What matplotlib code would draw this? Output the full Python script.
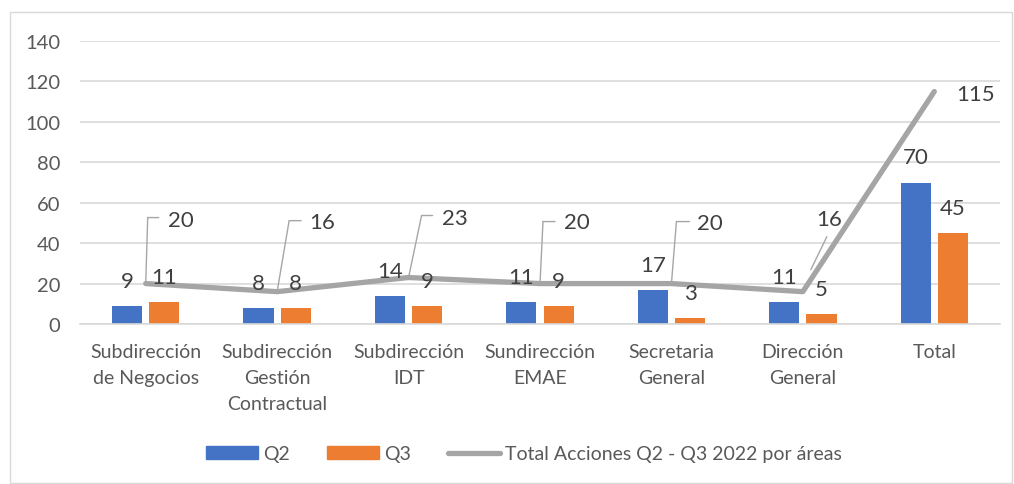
import numpy as np
import matplotlib
matplotlib.use('Agg')
import matplotlib.pyplot as plt
from matplotlib.transforms import offset_copy
from matplotlib.patches import Rectangle, Patch
from matplotlib.lines import Line2D

categories = ["Subdirección\nde Negocios", "Subdirección\nGestión\nContractual",
              "Subdirección\nIDT", "Sundirección\nEMAE", "Secretaria\nGeneral",
              "Dirección\nGeneral", "Total"]
q2 = [9, 8, 14, 11, 17, 11, 70]
q3 = [11, 8, 9, 9, 3, 5, 45]
total = [20, 16, 23, 20, 20, 16, 115]
yticks = [0, 20, 40, 60, 80, 100, 120, 140]
legend_labels = ["Q2", "Q3", "Total Acciones Q2 - Q3 2022 por áreas"]

# label placement (pixels, image-down positive): text left offset, text center offset
lab_dx = [22, 32, 33, 24, 26, 13, 22]
lab_dy = [-64, -70, -60, -62, -61, -73, 2]
# leader lines: list of vertices offsets (pixels)
leaders = [
    [(0, 0), (2, -66), (13, -66)],
    [(0, 0), (12, -71), (24, -71)],
    [(0, 0), (13, -62), (24, -62)],
    [(0, 0), (3, -62), (15, -62)],
    [(0, 0), (5, -62), (18, -62)],
    [(8, -22), (24, -55)],
    None,
]

plt.rcParams['font.family'] = ['Lato', 'DejaVu Sans']
W, H = 1014, 485
fig = plt.figure(figsize=(W / 100, H / 100), dpi=100)
ax = fig.add_axes([80 / W, 1 - 325 / H, 920 / W, 283 / H])

x = np.arange(len(categories))
w = 0.23
off = 0.142
ax.bar(x - off, q2, w, color='#4472C4', zorder=2)
ax.bar(x + off, q3, w, color='#ED7D31', zorder=2)
ax.plot(x, total, color='#A5A5A5', lw=3.8, solid_capstyle='round',
        solid_joinstyle='round', zorder=3)

ax.set_xlim(-0.5, len(categories) - 0.5)
ax.set_ylim(0, 140)
ax.set_yticks(yticks)
ax.grid(axis='y', color='#D9D9D9', lw=1.2)
ax.set_axisbelow(True)
for s in ['top', 'right', 'left']:
    ax.spines[s].set_visible(False)
ax.spines['bottom'].set_color('#D9D9D9')
ax.spines['bottom'].set_linewidth(1.2)
ax.tick_params(length=0, colors='#595959')
ax.tick_params(axis='y', pad=14, labelsize=14.5)
ax.tick_params(axis='x', pad=14, labelsize=14)
ax.set_xticks(x)
ax.set_xticklabels(categories, linespacing=1.62)

lab_color = '#404040'
for xi, v in zip(x - off, q2):
    ax.annotate(str(v), (xi, v), xytext=(0, 19), textcoords='offset pixels',
                ha='center', va='baseline', fontsize=16, color=lab_color)
for xi, v in zip(x + off, q3):
    ax.annotate(str(v), (xi, v), xytext=(0, 19), textcoords='offset pixels',
                ha='center', va='baseline', fontsize=16, color=lab_color)

for i, v in enumerate(total):
    ax.annotate(str(v), (x[i], v), xytext=(lab_dx[i], -lab_dy[i]),
                textcoords='offset pixels', ha='left', va='center',
                fontsize=16, color=lab_color)
    ld = leaders[i]
    if ld:
        for (ax0, ay0), (ax1, ay1) in zip(ld[:-1], ld[1:]):
            t0 = offset_copy(ax.transData, fig=fig, x=ax0, y=-ay0, units='dots')
            t1 = offset_copy(ax.transData, fig=fig, x=ax1, y=-ay1, units='dots')
            ax.annotate('', xy=(x[i], v), xycoords=t1, xytext=(x[i], v),
                        textcoords=t0,
                        arrowprops=dict(arrowstyle='-', color='#A6A6A6', lw=1,
                                        shrinkA=0, shrinkB=0))

handles = [Patch(color='#4472C4'), Patch(color='#ED7D31'),
           Line2D([], [], color='#A5A5A5', lw=3.8, solid_capstyle='round')]
fig.legend(handles, legend_labels, loc='center', bbox_to_anchor=(524 / W, 1 - 455 / H),
           ncol=3, frameon=False, fontsize=14, handlelength=2.68, handleheight=0.62,
           columnspacing=1.9, handletextpad=0.26, labelcolor='#595959')

fig.patches.append(Rectangle((10 / W, 1 - 484 / H), 1002 / W, 471 / H,
                             transform=fig.transFigure, fill=False,
                             ec='#D9D9D9', lw=1))

fig.savefig('out.png', dpi=100)
